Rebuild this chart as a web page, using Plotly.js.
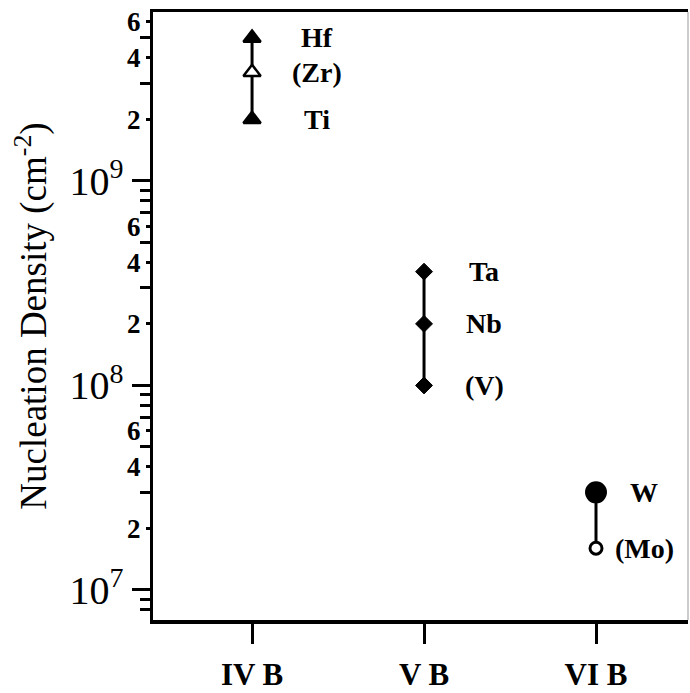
<!DOCTYPE html>
<html>
<head>
<meta charset="utf-8">
<script src="https://cdn.plot.ly/plotly-3.0.1.min.js"></script>
<style>html,body{margin:0;padding:0;background:#fff;}#chart{width:690px;height:693px;}</style>
</head>
<body>
<div id="chart"></div>
<script>
// ---- data ----
const groups = ['IV B', 'V B', 'VI B'];
const ivbElements = ['Ti', '(Zr)', 'Hf'];
const ivbValues = [2.0e9, 3.4e9, 5.0e9];
const vbElements = ['(V)', 'Nb', 'Ta'];
const vbValues = [1.0e8, 2.0e8, 3.6e8];
const vibElements = ['(Mo)', 'W'];
const vibValues = [1.6e7, 3.0e7];
const decadeTicks = [1e7, 1e8, 1e9];
const decadeLabels = ['10<sup>7</sup>', '10<sup>8</sup>', '10<sup>9</sup>'];
const digitTicks = [2e7, 4e7, 6e7, 2e8, 4e8, 6e8, 2e9, 4e9, 6e9];
const digitLabels = ['2', '4', '6', '2', '4', '6', '2', '4', '6'];
const minorTicks = [8e6, 9e6, 3e7, 5e7, 7e7, 8e7, 9e7, 3e8, 5e8, 7e8, 8e8, 9e8, 3e9, 5e9];

const FONT = 'Liberation Serif';

function series(group, names, vals, style) {
  return {
    type: 'scatter', mode: 'lines+markers',
    x: names.map(() => group), y: vals,
    line: {color: 'black', width: 3},
    marker: Object.assign({opacity: 1}, style),
    hoverinfo: 'skip', showlegend: false
  };
}

const traces = [
  series(groups[0], ivbElements, ivbValues, {
    symbol: 'triangle-up', size: 15,
    color: ivbElements.map(n => n.startsWith('(') ? 'white' : 'black'),
    line: {color: 'black', width: 2.5}
  }),
  series(groups[1], vbElements, vbValues, {
    symbol: 'diamond', size: 13, color: 'black', line: {color: 'black', width: 1}
  }),
  series(groups[2], vibElements, vibValues, {
    symbol: 'circle',
    size: vibElements.map(n => n.startsWith('(') ? 12 : 19),
    color: vibElements.map(n => n.startsWith('(') ? 'white' : 'black'),
    line: {color: 'black', width: 3}
  }),
  // overlay axis carrying the 2/4/6 labels
  {type: 'scatter', mode: 'markers', x: [groups[0]], y: [digitTicks[0]], yaxis: 'y2',
   marker: {opacity: 0}, hoverinfo: 'skip', showlegend: false}
];

const labelShift = [65, 60, 48];
const annotations = [];
[[ivbElements, ivbValues], [vbElements, vbValues], [vibElements, vibValues]].forEach((g, gi) => {
  g[0].forEach((name, i) => {
    annotations.push({
      x: groups[gi], y: Math.log10(g[1][i]), xref: 'x', yref: 'y',
      text: '<b>' + name + '</b>', showarrow: false, xanchor: 'center', yanchor: 'middle',
      xshift: labelShift[gi],
      font: {family: FONT, size: 28, color: 'black'}
    });
  });
});

const yRange = [6.853, 9.826];

const layout = {
  width: 690, height: 693,
  margin: {l: 153, r: 2, t: 12, b: 73},
  paper_bgcolor: 'white', plot_bgcolor: 'white',
  xaxis: {
    type: 'category', range: [-0.576, 2.535],
    tickmode: 'array', tickvals: groups, ticktext: groups.map(g => '<b>' + g + '</b>'),
    ticks: 'outside', ticklen: 20, tickwidth: 3, tickcolor: 'black',
    ticklabelstandoff: 4,
    showline: true, linewidth: 3.5, linecolor: 'black', mirror: true,
    showgrid: false, zeroline: false,
    tickfont: {family: FONT, size: 31, color: 'black'}
  },
  yaxis: {
    type: 'log', range: yRange,
    tickmode: 'array', tickvals: decadeTicks, ticktext: decadeLabels,
    ticks: 'outside', ticklen: 18, tickwidth: 3, tickcolor: 'black',
    minor: {tickmode: 'array', tickvals: minorTicks, ticks: 'outside', ticklen: 10, tickwidth: 3, tickcolor: 'black', showgrid: false},
    showline: true, linewidth: 3.5, linecolor: 'black',
    showgrid: false, zeroline: false,
    tickfont: {family: FONT, size: 40, color: 'black'},
    title: {text: 'Nucleation Density (cm<sup>-2</sup>)', standoff: 12,
            font: {family: FONT, size: 37, color: 'black'}}
  },
  yaxis2: {
    type: 'log', range: yRange, overlaying: 'y', side: 'left', anchor: 'x',
    tickmode: 'array', tickvals: digitTicks, ticktext: digitLabels.map(d => '<b>' + d + '</b>'),
    ticks: 'outside', ticklen: 6, tickwidth: 3, tickcolor: 'black',
    showline: false, showgrid: false, zeroline: false,
    tickfont: {family: FONT, size: 27, color: 'black'}
  },
  shapes: [{type: 'line', xref: 'paper', yref: 'paper', x0: 1, x1: 1, y0: 0, y1: 1,
            line: {color: '#999', width: 1}}],
  annotations: annotations
};

Plotly.newPlot('chart', traces, layout, {displayModeBar: false, staticPlot: true});
</script>
</body>
</html>
